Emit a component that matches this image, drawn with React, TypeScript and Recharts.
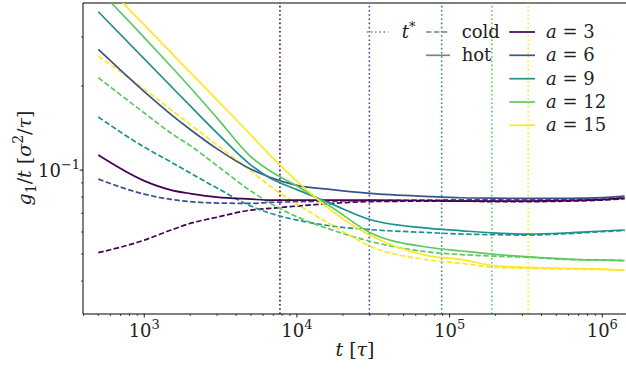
import React from 'react';
import { LineChart, Line, XAxis, YAxis, ReferenceLine } from 'recharts';

// time grid (tau)
const times = [500, 1000, 1500, 2000, 3000, 5000, 6650, 10000, 17000, 30000, 74000, 120000, 190000, 330000, 600000, 1000000, 1400000];

// hot series g1/t
const hotA3 = [0.1132, 0.0915, 0.0848, 0.0824, 0.0800, 0.0787, 0.0781, 0.0781, 0.0781, 0.0781, 0.0777, 0.0774, 0.0774, 0.0774, 0.0777, 0.0784, 0.0793];
const hotA6 = [0.2707, 0.1910, 0.1581, 0.1398, 0.1191, 0.1007, 0.0943, 0.0882, 0.0851, 0.0825, 0.0804, 0.0796, 0.0793, 0.0792, 0.0792, 0.0797, 0.0807];
const hotA9 = [0.3694, 0.2504, 0.1995, 0.1698, 0.1357, 0.1042, 0.0936, 0.0851, 0.0755, 0.0665, 0.0618, 0.0606, 0.0596, 0.0590, 0.0596, 0.0605, 0.0610];
const hotA12 = [0.4446, 0.2985, 0.2350, 0.1977, 0.1536, 0.1116, 0.0994, 0.0877, 0.0734, 0.0598, 0.0528, 0.0513, 0.0500, 0.0489, 0.0480, 0.0476, 0.0474];
const hotA15 = [0.4894, 0.3314, 0.2635, 0.2239, 0.1782, 0.1335, 0.1132, 0.0913, 0.0713, 0.0585, 0.0492, 0.0478, 0.0455, 0.0448, 0.0444, 0.0442, 0.0438];

// cold series g1/t
const coldA3 = [0.0506, 0.0561, 0.0610, 0.0644, 0.0678, 0.0719, 0.0729, 0.0743, 0.0760, 0.0771, 0.0774, 0.0774, 0.0771, 0.0771, 0.0774, 0.0781, 0.0790];
const coldA6 = [0.0928, 0.0820, 0.0785, 0.0771, 0.0762, 0.0760, 0.0766, 0.0770, 0.0774, 0.0777, 0.0781, 0.0782, 0.0782, 0.0784, 0.0785, 0.0790, 0.0797];
const coldA9 = [0.1550, 0.1209, 0.1068, 0.0976, 0.0862, 0.0743, 0.0701, 0.0662, 0.0630, 0.0612, 0.0597, 0.0590, 0.0587, 0.0585, 0.0592, 0.0602, 0.0607];
const coldA12 = [0.2144, 0.1602, 0.1356, 0.1224, 0.1037, 0.0841, 0.0762, 0.0680, 0.0610, 0.0556, 0.0508, 0.0498, 0.0492, 0.0487, 0.0478, 0.0476, 0.0474];
const coldA15 = [0.2562, 0.1950, 0.1644, 0.1457, 0.1229, 0.0992, 0.0877, 0.0755, 0.0635, 0.0534, 0.0476, 0.0463, 0.0449, 0.0444, 0.0442, 0.0440, 0.0438];

// crossover times t*
const tStar = [7740, 29800, 88700, 189000, 327000];

const aValues = [3, 6, 9, 12, 15];
const colors = ['#440154', '#3b528b', '#21918c', '#5ec962', '#fde725'];
const hotSeries = [hotA3, hotA6, hotA9, hotA12, hotA15];
const coldSeries = [coldA3, coldA6, coldA9, coldA12, coldA15];

const xMajorTicks = [1e3, 1e4, 1e5, 1e6];
const xMinorTicks = [
  400, 500, 600, 700, 800, 900,
  2000, 3000, 4000, 5000, 6000, 7000, 8000, 9000,
  20000, 30000, 40000, 50000, 60000, 70000, 80000, 90000,
  200000, 300000, 400000, 500000, 600000, 700000, 800000, 900000,
];
const yMajorTicks = [0.1];
const yMinorTicks = [0.04, 0.05, 0.06, 0.07, 0.08, 0.09, 0.2, 0.3];

const xDomain = [397, 1.43e6];
const yDomain = [0.0305, 0.397];

const data = times.map((t, i) => {
  const row: Record<string, number> = { t };
  aValues.forEach((a, k) => {
    row[`hot${a}`] = hotSeries[k][i];
    row[`cold${a}`] = coldSeries[k][i];
  });
  return row;
});

const FONT = 'DejaVu Serif';
const TICK_FS = 18;
const LABEL_FS = 19;
const LEG_FS = 18;
const txt = { fontFamily: FONT };

const XTick = (props: any) => {
  const { x, y, payload } = props;
  const v = payload.value;
  const major = xMajorTicks.includes(v);
  const exp = Math.round(Math.log10(v));
  return (
    <g>
      <line x1={x} x2={x} y1={y} y2={y + (major ? 3.5 : 2)} stroke="#000" strokeWidth={major ? 0.9 : 0.7} />
      {major && (
        <text x={x} y={y + 23} textAnchor="middle" style={txt} fontSize={TICK_FS} fill="#222">
          10<tspan dy={-8} fontSize={13}>{exp}</tspan>
        </text>
      )}
    </g>
  );
};

const YTick = (props: any) => {
  const { x, y, payload } = props;
  const v = payload.value;
  const major = yMajorTicks.includes(v);
  const exp = Math.round(Math.log10(v));
  return (
    <g>
      <line x1={x} x2={x - (major ? 3.5 : 2)} y1={y} y2={y} stroke="#000" strokeWidth={major ? 0.9 : 0.7} />
      {major && (
        <text x={x - 45} y={y + 7} textAnchor="start" style={txt} fontSize={TICK_FS} fill="#222">
          10<tspan dy={-8} fontSize={13}>{'\u2212' + Math.abs(exp)}</tspan>
        </text>
      )}
    </g>
  );
};

const legendRowsY = [32, 55.3, 78.7, 102, 125.3];

export default function App() {
  return (
    <div style={{ position: 'absolute', left: 0, top: 0, width: 630, height: 375, background: '#fff' }}>
      <LineChart width={630} height={375} data={data} margin={{ top: 3, right: 4, bottom: 0, left: 0 }}>
        <XAxis
          dataKey="t"
          type="number"
          scale="log"
          domain={xDomain}
          allowDataOverflow
          ticks={[...xMajorTicks, ...xMinorTicks]}
          tick={<XTick />}
          tickLine={false}
          tickSize={0}
          tickMargin={0}
          height={61}
          axisLine={{ stroke: '#000', strokeWidth: 1 }}
          interval={0}
        />
        <YAxis
          type="number"
          scale="log"
          domain={yDomain}
          allowDataOverflow
          ticks={[...yMinorTicks, ...yMajorTicks]}
          tick={<YTick />}
          tickLine={false}
          tickSize={0}
          tickMargin={0}
          width={83}
          axisLine={{ stroke: '#000', strokeWidth: 1 }}
          interval={0}
        />
        <ReferenceLine y={yDomain[1]} stroke="#000" strokeWidth={1} ifOverflow="visible" />
        {tStar.map((ts, k) => (
          <ReferenceLine key={`ts${k}`} x={ts} stroke={colors[k]} strokeWidth={1.6} strokeDasharray="1.6 2.6" />
        ))}
        {aValues.map((a, k) => (
          <Line
            key={`cold${a}`}
            dataKey={`cold${a}`}
            type="monotone"
            stroke={colors[k]}
            strokeWidth={1.7}
            strokeDasharray="5.5 2.4"
            dot={false}
            isAnimationActive={false}
          />
        ))}
        {aValues.map((a, k) => (
          <Line
            key={`hot${a}`}
            dataKey={`hot${a}`}
            type="monotone"
            stroke={colors[k]}
            strokeWidth={1.7}
            dot={false}
            isAnimationActive={false}
          />
        ))}
      </LineChart>
      <svg width={630} height={375} style={{ position: 'absolute', left: 0, top: 0, pointerEvents: 'none' }}>
        {/* style legend */}
        <line x1={366.7} x2={388.3} y1={legendRowsY[0]} y2={legendRowsY[0]} stroke="#808080" strokeWidth={1.6} strokeDasharray="1.6 2.6" />
        <text x={401.7} y={legendRowsY[0] + 6} style={txt} fontSize={LEG_FS} fill="#222">
          <tspan fontStyle="italic">t</tspan>
          <tspan dy={-7} fontSize={13}>*</tspan>
        </text>
        <line x1={426} x2={450} y1={legendRowsY[0]} y2={legendRowsY[0]} stroke="#808080" strokeWidth={1.7} strokeDasharray="5.5 2.4" />
        <text x={461.7} y={legendRowsY[0] + 6} style={txt} fontSize={LEG_FS} fill="#222">cold</text>
        <line x1={426} x2={450} y1={legendRowsY[1]} y2={legendRowsY[1]} stroke="#808080" strokeWidth={1.7} />
        <text x={461.7} y={legendRowsY[1] + 6} style={txt} fontSize={LEG_FS} fill="#222">hot</text>
        {/* a legend */}
        {aValues.map((a, k) => (
          <g key={`leg${a}`}>
            <line x1={509.3} x2={535} y1={legendRowsY[k]} y2={legendRowsY[k]} stroke={colors[k]} strokeWidth={1.7} />
            <text x={546} y={legendRowsY[k] + 6} style={txt} fontSize={LEG_FS} fill="#222">
              <tspan fontStyle="italic">a</tspan> = {a}
            </text>
          </g>
        ))}
        {/* axis labels */}
        <text x={355} y={356} textAnchor="middle" style={txt} fontSize={LABEL_FS} fill="#222">
          <tspan fontStyle="italic">t</tspan> [<tspan fontStyle="italic">τ</tspan>]
        </text>
        <text x={0} y={0} transform="translate(31,158) rotate(-90)" textAnchor="middle" style={txt} fontSize={LABEL_FS} fill="#222">
          <tspan fontStyle="italic">g</tspan>
          <tspan dy={5} fontSize={14}>1</tspan>
          <tspan dy={-5}>/</tspan>
          <tspan fontStyle="italic">t</tspan>
          <tspan> [</tspan>
          <tspan fontStyle="italic">σ</tspan>
          <tspan dy={-8} fontSize={14}>2</tspan>
          <tspan dy={8}>/</tspan>
          <tspan fontStyle="italic">τ</tspan>
          <tspan>]</tspan>
        </text>
      </svg>
    </div>
  );
}
